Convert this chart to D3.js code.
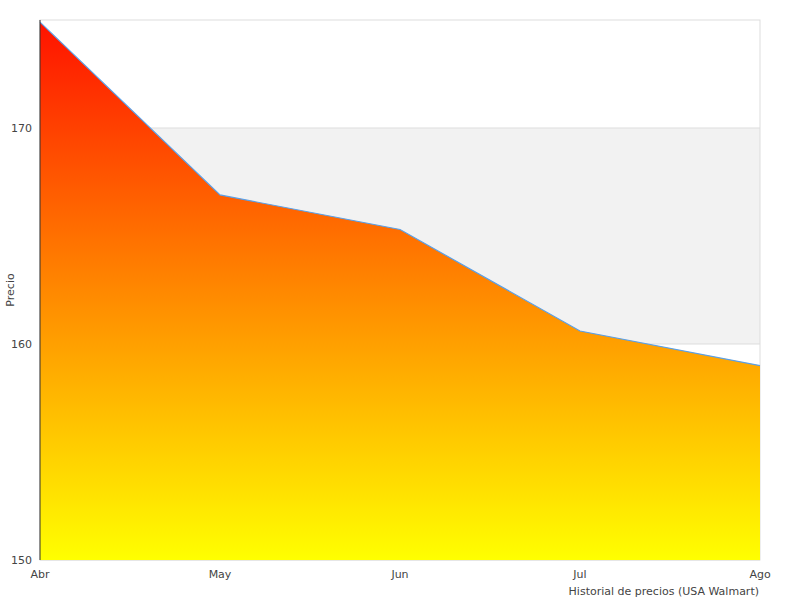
<!DOCTYPE html>
<html><head><meta charset="utf-8">
<script src="https://cdn.jsdelivr.net/npm/d3@7"></script>
<style>body{margin:0;background:#fff}text{font-family:"DejaVu Sans",sans-serif;fill:#444;font-size:11px}</style>
</head><body>
<script>
const months = ['Abr', 'May', 'Jun', 'Jul', 'Ago']
const prices = [174.9, 166.9, 165.3, 160.6, 159.0]
const yTicks = [150, 160, 170]

const svg = d3.select('body').append('svg').attr('width', 800).attr('height', 600)
const margin = {top: 20, right: 40, bottom: 40, left: 40}
const w = 800 - margin.left - margin.right
const h = 600 - margin.top - margin.bottom

const x = d3.scalePoint().domain(months).range([0, w])
const y = d3.scaleLinear().domain([150, 175]).range([h, 0])

const defs = svg.append('defs')
const grad = defs.append('linearGradient').attr('id', 'g').attr('x1', 0).attr('y1', 0).attr('x2', 0).attr('y2', 1)
grad.append('stop').attr('offset', '0%').attr('stop-color', '#ff1200')
grad.append('stop').attr('offset', '100%').attr('stop-color', '#ffff00')

const g = svg.append('g').attr('transform', `translate(${margin.left},${margin.top})`)

// band 160-170
g.append('rect').attr('x', 0).attr('width', w).attr('y', y(170)).attr('height', y(160) - y(170)).attr('fill', '#f2f2f2')
g.append('rect').attr('width', w).attr('height', h).attr('fill', 'none').attr('stroke', '#ddd')
yTicks.forEach(t => {
  g.append('line').attr('x1', 0).attr('x2', w).attr('y1', y(t)).attr('y2', y(t)).attr('stroke', '#ddd')
  g.append('text').attr('x', -8).attr('y', y(t) + 4).attr('text-anchor', 'end').text(t)
})

const data = months.map((m, i) => ({m, v: prices[i]}))
g.append('path').datum(data)
  .attr('d', d3.area().x(d => x(d.m)).y0(h).y1(d => y(d.v)))
  .attr('fill', 'url(#g)')
g.append('path').datum(data)
  .attr('d', d3.line().x(d => x(d.m)).y(d => y(d.v)))
  .attr('fill', 'none').attr('stroke', '#5aa0e8').attr('stroke-width', 1.2)

g.append('line').attr('x1', 0).attr('x2', 0).attr('y1', 0).attr('y2', h).attr('stroke', '#333')

months.forEach(m => {
  g.append('text').attr('x', x(m)).attr('y', h + 18).attr('text-anchor', 'middle').text(m)
})

svg.append('text').attr('transform', 'translate(14,290) rotate(-90)').attr('text-anchor', 'middle').text('Precio')
svg.append('text').attr('x', 759).attr('y', 595).attr('text-anchor', 'end').text('Historial de precios (USA Walmart)')
</script>
</body></html>
